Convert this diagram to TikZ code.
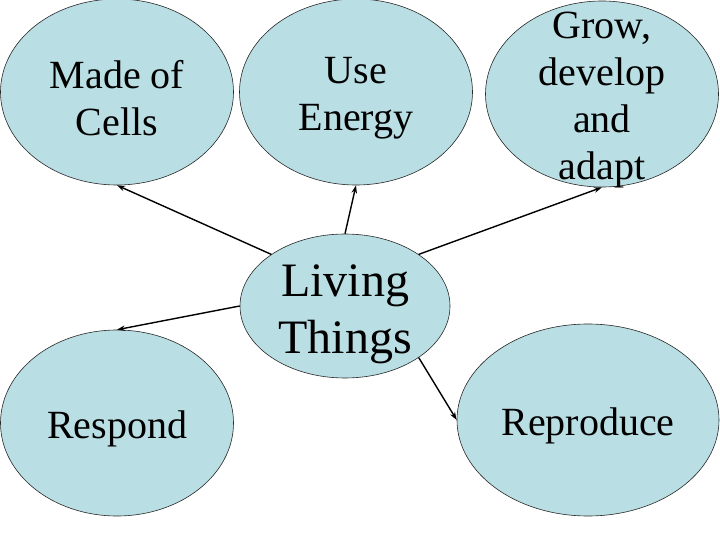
\documentclass[tikz,border=0pt]{standalone}
\usepackage{fontspec}
\setmainfont{Liberation Serif}
\usepackage{tikz}
\usetikzlibrary{arrows.meta, shapes.geometric}
\definecolor{bubbleblue}{RGB}{185,222,227}
\definecolor{rimgray}{RGB}{40,40,40}

\begin{document}
\begin{tikzpicture}[x=1pt, y=-1pt,
    bubble/.style={ellipse, draw=rimgray, line width=0.6pt, fill=bubbleblue, inner sep=0pt},
    tag/.style={align=center, yshift=-6pt, font=\fontsize{40}{47}\selectfont},
    link/.style={-{Stealth[length=8pt,width=5.5pt]}, line width=1.4pt}]
    \useasboundingbox (0,0) rectangle (720,540);

    % Centre bubble
    \node[bubble, minimum width=210pt, minimum height=144pt,
        label={[tag, yshift=-2pt, font=\fontsize{48}{57}\selectfont]center:Living\\Things}] (living) at (345,306) {};

    % Top row
    \node[bubble, minimum width=233pt, minimum height=186pt,
        label={[tag]center:Made of\\Cells}] (cells) at (117,92) {};
    \node[bubble, minimum width=233pt, minimum height=186pt,
        label={[tag]center:Use\\Energy}] (energy) at (356,92) {};
    \node[bubble, minimum width=233pt, minimum height=186pt,
        label={[tag]center:Grow,\\develop\\and\\adapt}] (grow) at (602,94) {};

    % Bottom row
    \node[bubble, minimum width=233pt, minimum height=186pt,
        label={[tag]center:Respond}] (respond) at (117,423) {};
    \node[bubble, minimum width=262pt, minimum height=192pt,
        label={[tag]center:Reproduce}] (reproduce) at (588,420) {};

    % Links out of the centre
    \foreach \from/\to in {145/cells.south, 90/energy.south, 35/grow.south, 180/respond.north, -35/reproduce.west} {
        \draw[link] (living.\from) -- (\to);
    }
\end{tikzpicture}
\end{document}
